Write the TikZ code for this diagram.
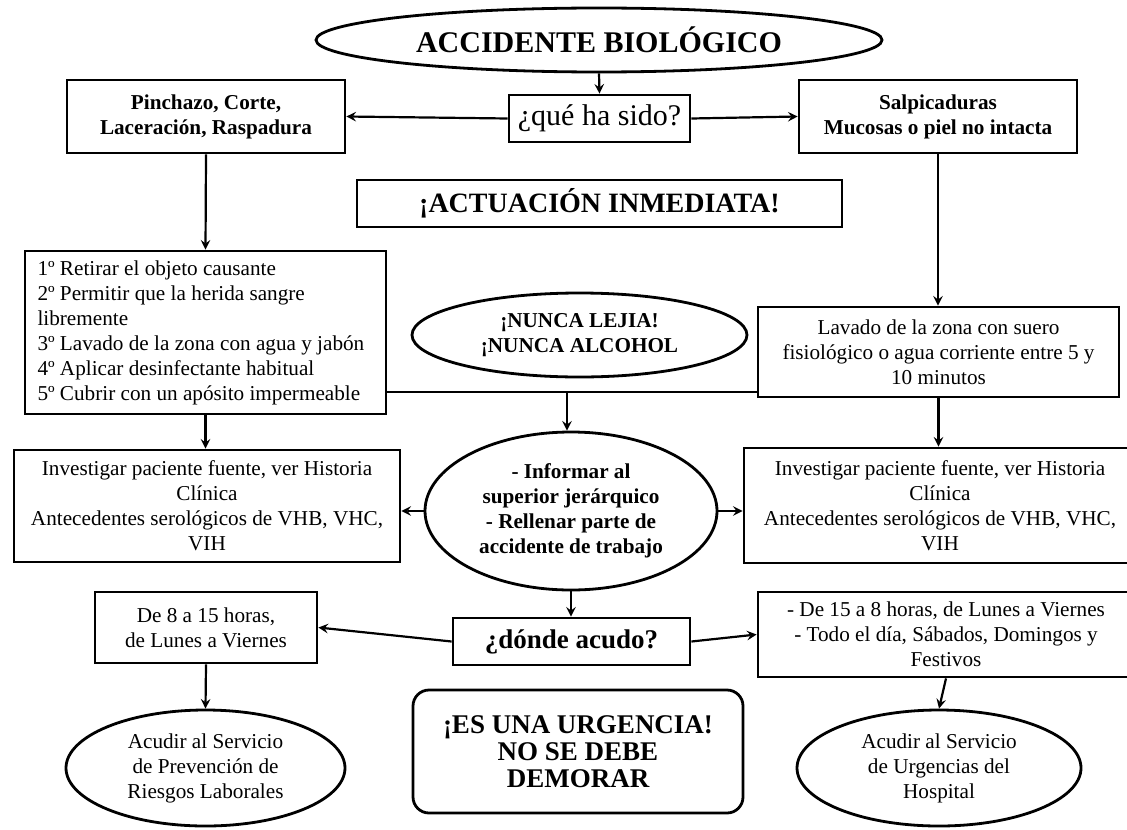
\documentclass[tikz,border=0pt]{standalone}
\usepackage{fontspec}
\setmainfont{Liberation Serif}
\usetikzlibrary{shapes.geometric}

\newcommand{\letranormal}{\fontsize{10.6}{12.5}\selectfont}
\newcommand{\letragrande}{\fontsize{13.5}{13.5}\selectfont\bfseries}

\begin{document}
\begin{tikzpicture}[x=0.5pt, y=-0.5pt, >=stealth,
    caja/.style={draw, line width=1.4pt, rectangle, align=center, inner sep=1pt, font=\letranormal},
    elipse/.style={draw, line width=1.4pt, ellipse, align=center, inner sep=0pt, font=\letranormal},
    flecha/.style={->, line width=1.1pt}]

\useasboundingbox (0,0) rectangle (1127,829);

    % Nodes with specific styles
    \node[elipse, minimum width=283pt, minimum height=32pt,
         font=\fontsize{15}{18}\selectfont\bfseries] (accidente) at (599,40) {ACCIDENTE BIOLÓGICO};
    \node[caja, minimum width=90.5pt, minimum height=23.5pt,
         font=\fontsize{15}{18}\selectfont] (quehasido) at (599.5,118.5) {¿qué ha sido?};
    \node[caja, minimum width=139pt, minimum height=36.5pt, font=\letranormal\bfseries]
         (pinchazo) at (206,116.5) {Pinchazo, Corte,\\Laceración, Raspadura};
    \node[caja, minimum width=139pt, minimum height=36.5pt, font=\letranormal\bfseries]
         (salpicadura) at (938,116.5) {Salpicaduras\\Mucosas o piel no intacta};
    \node[caja, minimum width=242.5pt, minimum height=23.5pt,
         font=\fontsize{14}{16}\selectfont\bfseries] (actuacion) at (599.5,203.5) {¡ACTUACIÓN INMEDIATA!};

    \node[caja, text width=168pt, inner xsep=6.25pt, align=flush left, minimum height=81.5pt]
         (pasos) at (205.5,332.5) {1º Retirar el objeto causante\\2º Permitir que la herida sangre\\libremente\\3º Lavado de la zona con agua y jabón\\4º Aplicar desinfectante habitual\\5º Cubrir con un apósito impermeable};
    \node[elipse, minimum width=167.5pt, minimum height=42pt, font=\letranormal\bfseries]
         (nunca) at (579.5,335) {¡NUNCA LEJIA!\\¡NUNCA ALCOHOL};
    \node[caja, minimum width=180.5pt, minimum height=45pt]
         (lavado) at (938.5,352) {Lavado de la zona con suero\\fisiológico o agua corriente entre 5 y\\10 minutos};

    \node[elipse, minimum width=146pt, minimum height=79pt, font=\letranormal\bfseries]
         (informar) at (571,511) {- Informar al\\superior jerárquico\\- Rellenar parte de\\accidente de trabajo};
    \node[caja, minimum width=193pt, minimum height=56pt]
         (invizq) at (207,506) {Investigar paciente fuente, ver Historia\\Clínica\\Antecedentes serológicos de VHB, VHC,\\VIH};
    \node[caja, minimum width=196pt, minimum height=57.5pt]
         (invder) at (940,505.5) {Investigar paciente fuente, ver Historia\\Clínica\\Antecedentes serológicos de VHB, VHC,\\VIH};

    \node[caja, minimum width=111pt, minimum height=35.5pt]
         (manana) at (206,627.5) {De 8 a 15 horas,\\de Lunes a Viernes};
    \node[caja, minimum width=118.5pt, minimum height=23.5pt, font=\letragrande]
         (donde) at (571.5,641.5) {¿dónde acudo?};
    \node[caja, minimum width=188pt, minimum height=42.5pt]
         (tarde) at (946,634.5) {- De 15 a 8 horas, de Lunes a Viernes\\- Todo el día, Sábados, Domingos y\\Festivos};

    \node[caja, rounded corners=8pt, minimum width=165pt, minimum height=61.5pt, font=\letragrande]
         (urgencia) at (578,751.5) {¡ES UNA URGENCIA!\\NO SE DEBE\\DEMORAR};
    \node[elipse, minimum width=139.5pt, minimum height=58pt]
         (prevencion) at (205.5,768) {Acudir al Servicio\\de Prevención de\\Riesgos Laborales};
    \node[elipse, minimum width=142pt, minimum height=58pt]
         (hospital) at (939,768) {Acudir al Servicio\\de Urgencias del\\Hospital};

    \coordinate (cruce) at (567,392);

    % Connectors
    \draw[flecha] (accidente.south) -- (quehasido.north);
    \draw[flecha] (quehasido.west) -- (pinchazo.east);
    \draw[flecha] (quehasido.east) -- (salpicadura.west);
    \draw[flecha] (pinchazo.south) -- (pasos.north);
    \draw[flecha] (salpicadura.south) -- (salpicadura.south |- lavado.north);
    \draw[line width=1.1pt] (pasos.east |- cruce) -- (lavado.west |- cruce);
    \draw[flecha] (cruce) -- (cruce |- informar.north);
    \draw[flecha] (pasos.south) -- (pasos.south |- invizq.north);
    \draw[flecha] (lavado.south) -- (lavado.south |- invder.north);
    \draw[flecha] (informar.west) -- (informar.west -| invizq.east);
    \draw[flecha] (informar.east) -- (informar.east -| invder.west);
    \draw[flecha] (informar.south) -- (informar.south |- donde.north);
    \draw[flecha] (donde.west) -- (manana.east);
    \draw[flecha] (donde.east) -- (tarde.west);
    \draw[flecha] (manana.south) -- (prevencion.north);
    \draw[flecha] (tarde.south) -- (hospital.north);

\end{tikzpicture}
\end{document}
